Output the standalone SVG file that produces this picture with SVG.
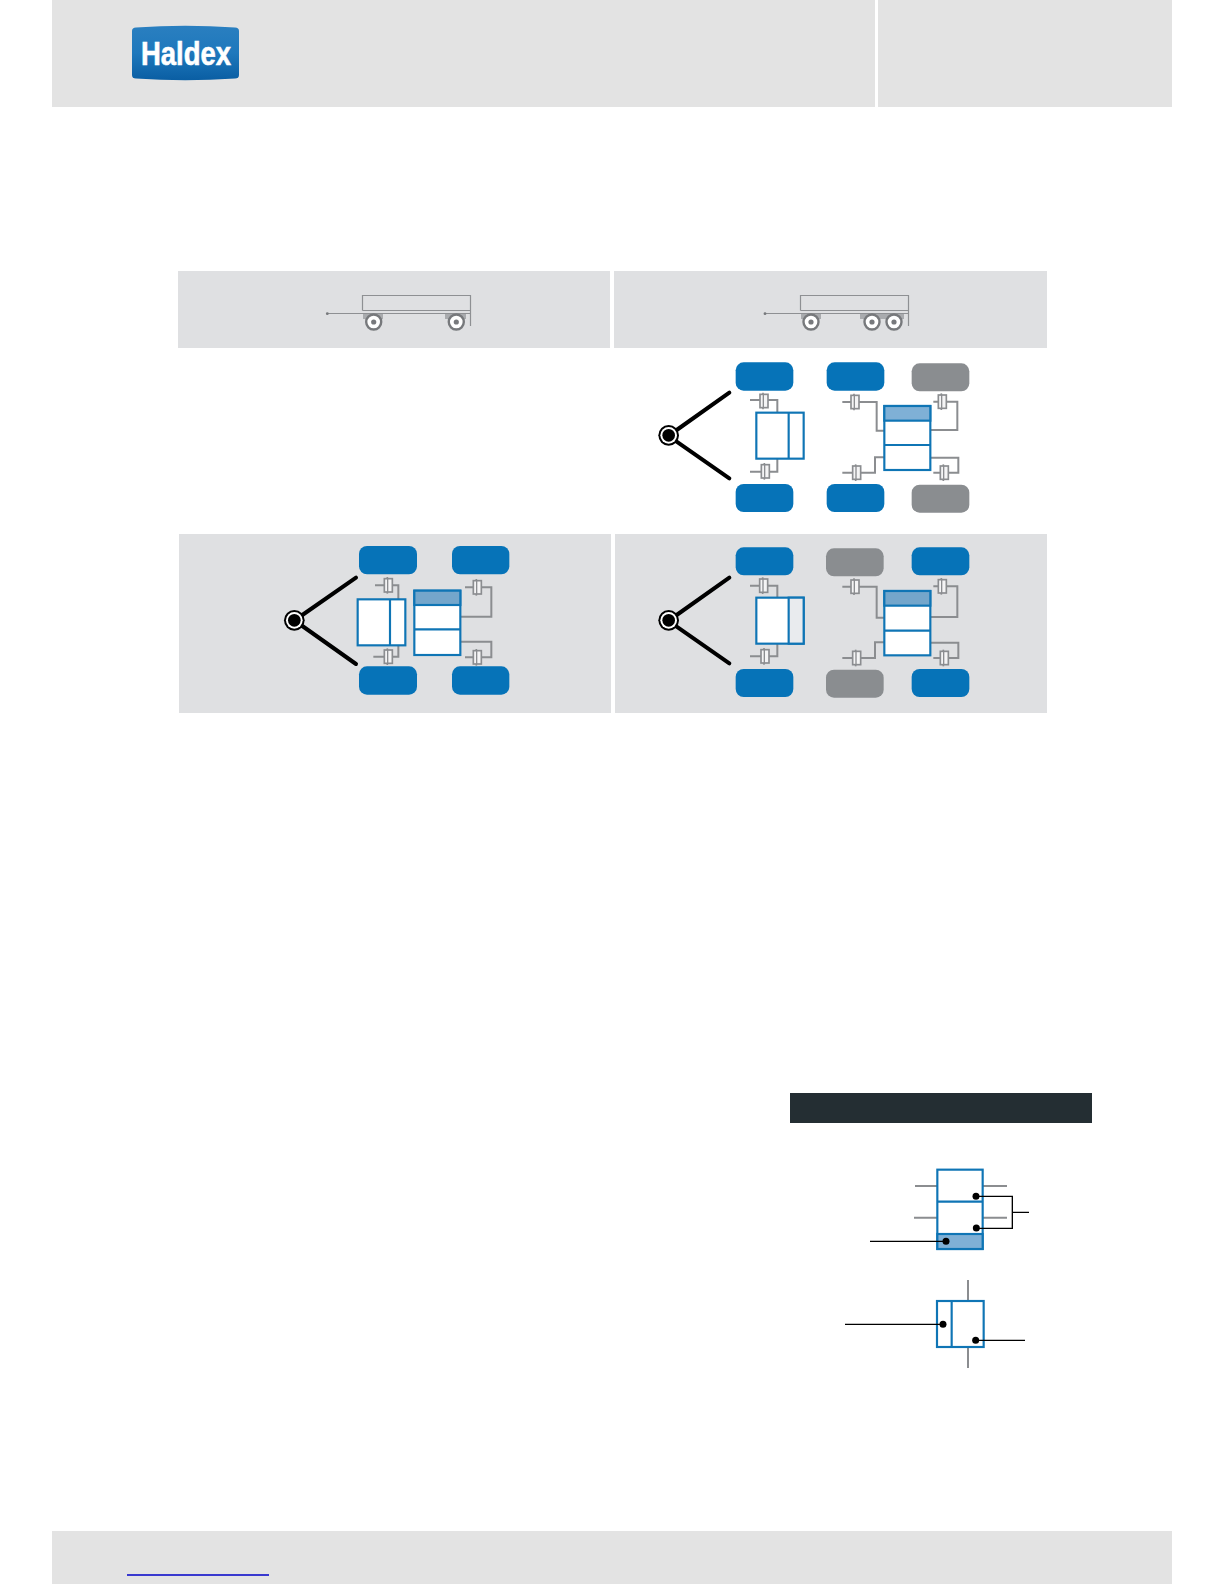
<svg xmlns="http://www.w3.org/2000/svg" width="1224" height="1584" viewBox="0 0 1224 1584">
<style>
.band{fill:#e3e3e3}
.panel{fill:#dfe0e2}
.bw{fill:#0673b8}
.gw{fill:#8a8d90}
.mod{fill:#fff;stroke:#0f75b5;stroke-width:6.5}
.div{fill:none;stroke:#0f75b5;stroke-width:6.5}
.hi{fill:#7fb0d6;stroke:#0f75b5;stroke-width:6.5}
.hi2{fill:#74a6cb;stroke:#0f75b5;stroke-width:6.5}
.pipe{fill:none;stroke:#8b8d90;stroke-width:6}
.arm{fill:none;stroke:#000;stroke-width:12;stroke-linecap:round}
.wire{fill:none;stroke:#000;stroke-width:4}
.frame{fill:none;stroke:#8e9093;stroke-width:1.2}
.fender{fill:#a9abae}
.hub{fill:#77797c}
.tyre{fill:#fff;stroke:#77797c;stroke-width:2.4}
</style>
<defs>
<linearGradient id="logoG" x1="0" y1="0" x2="0" y2="1">
<stop offset="0" stop-color="#2a7fc0"/><stop offset="0.5" stop-color="#1e78bc"/><stop offset="1" stop-color="#0a5ea3"/>
</linearGradient>
<g id="act"><line x1="-3" y1="-25" x2="-3" y2="25" stroke="#8b8d90" stroke-width="5"/><rect x="-12" y="-20" width="24" height="40" fill="#f4f4f5" stroke="#8b8d90" stroke-width="5"/><line x1="-2" y1="-20" x2="-2" y2="20" stroke="#8b8d90" stroke-width="4"/></g>
<g id="hubDot"><circle r="10.5" fill="#000"/></g>
<g id="joint"><circle r="31" fill="#000"/><circle r="25" fill="#fff"/><circle r="19" fill="#000"/></g>
<g id="wheel"><circle r="7.5" class="tyre"/><circle r="2.6" class="hub"/></g>
</defs>

<g id="header"><rect class="band" x="52" y="0" width="823" height="107"/><rect class="band" x="878" y="0" width="294" height="107"/></g>
<g id="logo">
<path d="M132 31Q132 27.500 136 27.500Q185 24 235 27.500Q239 27.500 239 31V75Q239 78.500 235 78.500Q185 82 136 78.500Q132 78.500 132 75Z" fill="url(#logoG)"/>
<text x="141" y="65" font-family="Liberation Sans, sans-serif" font-size="33" font-weight="bold" fill="#fff" stroke="#fff" stroke-width=".6" textLength="90" lengthAdjust="spacingAndGlyphs">Haldex</text>
</g>
<g id="footer"><rect class="band" x="52" y="1531" width="1120" height="53"/><line x1="127" y1="1575" x2="269" y2="1575" stroke="#0000c8" stroke-width="1.5"/></g>

<rect class="panel" x="178" y="271" width="432" height="77"/>
<rect class="panel" x="614" y="271" width="433" height="77"/>
<rect class="panel" x="179" y="534" width="432" height="179"/>
<rect class="panel" x="615" y="534" width="432" height="179"/>
<rect x="790" y="1093" width="302" height="30" fill="#242e33"/>

<g id="trailer-a">
<rect class="fender" x="363" y="314" width="20" height="5"/><rect class="fender" x="445" y="314" width="21" height="5"/>
<path class="frame" d="M362.5 310.500V295.500H470.500V326M362.500 310.500H470.500M327 313.500H470.500"/>
<circle class="hub" cx="327.300" cy="313.700" r="1.400"/>
<use href="#wheel" x="373.700" y="322"/><use href="#wheel" x="456.300" y="322"/>
</g>
<g id="trailer-b">
<rect class="fender" x="801" y="314" width="20" height="5"/><rect class="fender" x="860" y="314" width="44" height="5"/>
<path class="frame" d="M800.500 310.500V295.500H908.500V326M800.500 310.500H908.500M765 313.500H908.500"/>
<circle class="hub" cx="765" cy="313.700" r="1.400"/>
<use href="#wheel" x="811" y="322"/><use href="#wheel" x="872" y="322"/><use href="#wheel" x="894" y="322"/>
</g>

<g id="connectors">
<g transform="translate(640,350) scale(.33333)">
<path class="arm" d="M110 240L268 128M110 275L268 385"/>
<path class="pipe" d="M330 150H412V188M330 365H412V326M607 156H710V242H733M607 368H705V322H733M880 155H952V240H871M880 368H955V323H871"/>
</g>
<g transform="translate(270,530) scale(.33333)">
<path class="arm" d="M97 255L258 143M97 288L258 402"/>
<path class="pipe" d="M315 166H385V208M310 380H385V346M585 172H664V260H571M585 382H664V335H571"/>
</g>
<g transform="translate(640,530) scale(.33333)">
<path class="arm" d="M110 255L268 143M110 290L268 400"/>
<path class="pipe" d="M330 167H412V203M330 379H412V341M607 170H710V263H733M607 384H705V337H733M880 169H952V261H871M880 384H955V338H871"/>
</g>
<g transform="translate(780,1080) scale(.33333)">
<path class="pipe" d="M405 318H472M402 413H472M608 318H681M608 413H681M564 600V663M564 801V864"/>
</g>
</g>

<g id="diagram-b" transform="translate(640,350) scale(.33333)">
<use href="#joint" x="86" y="256"/>
<rect class="bw" x="287" y="37" width="173" height="85" rx="24"/><rect class="bw" x="560" y="37" width="173" height="85" rx="24"/><rect class="gw" x="815" y="40" width="173" height="84" rx="24"/>
<rect class="bw" x="287" y="402" width="173" height="84" rx="24"/><rect class="bw" x="560" y="402" width="173" height="84" rx="24"/><rect class="gw" x="815" y="404" width="173" height="84" rx="24"/>
<use href="#act" x="372" y="153"/><use href="#act" x="376" y="364"/><use href="#act" x="645" y="156"/><use href="#act" x="650" y="368"/><use href="#act" x="907" y="155"/><use href="#act" x="913" y="368"/>
<rect class="mod" x="349" y="188" width="142" height="138"/><line class="div" x1="446" y1="188" x2="446" y2="326"/>
<rect class="mod" x="733" y="168" width="138" height="192"/><rect class="hi" x="733" y="168" width="138" height="44"/><line class="div" x1="733" y1="285" x2="871" y2="285"/>
</g>

<g id="diagram-c" transform="translate(270,530) scale(.33333)">
<use href="#joint" x="73" y="271"/>
<rect class="bw" x="267" y="48" width="174" height="85" rx="24"/><rect class="bw" x="546" y="48" width="172" height="85" rx="24"/>
<rect class="bw" x="267" y="409" width="174" height="85" rx="24"/><rect class="bw" x="546" y="409" width="172" height="85" rx="24"/>
<use href="#act" x="355" y="166"/><use href="#act" x="355" y="380"/><use href="#act" x="622" y="172"/><use href="#act" x="622" y="382"/>
<rect class="mod" x="263" y="208" width="143" height="138"/><line class="div" x1="360" y1="208" x2="360" y2="346"/>
<rect class="mod" x="433" y="182" width="138" height="193"/><rect class="hi2" x="433" y="182" width="138" height="43"/><line class="div" x1="433" y1="298" x2="571" y2="298"/>
</g>

<g id="diagram-d" transform="translate(640,530) scale(.33333)">
<use href="#joint" x="86" y="271"/>
<rect class="bw" x="287" y="52" width="173" height="84" rx="24"/><rect class="gw" x="558" y="55" width="173" height="84" rx="24"/><rect class="bw" x="815" y="52" width="173" height="84" rx="24"/>
<rect class="bw" x="287" y="417" width="173" height="84" rx="24"/><rect class="gw" x="558" y="419" width="173" height="84" rx="24"/><rect class="bw" x="815" y="417" width="173" height="84" rx="24"/>
<use href="#act" x="371" y="167"/><use href="#act" x="375" y="379"/><use href="#act" x="645" y="170"/><use href="#act" x="650" y="384"/><use href="#act" x="907" y="169"/><use href="#act" x="913" y="384"/>
<rect class="mod" x="349" y="203" width="142" height="138"/><rect x="446" y="203" width="45" height="138" fill="#e9ebee" stroke="#0f75b5" stroke-width="6.500"/>
<rect class="mod" x="733" y="183" width="138" height="193"/><rect class="hi2" x="733" y="183" width="138" height="44"/><line class="div" x1="733" y1="302" x2="871" y2="302"/>
</g>

<g id="legend-valve" transform="translate(780,1080) scale(.33333)">
<rect class="mod" x="472" y="269" width="136" height="238"/><rect class="hi" x="472" y="462" width="136" height="45"/><line class="div" x1="472" y1="365" x2="608" y2="365"/>
<path class="wire" d="M588 349H697V445H589M697 397H747M270 484H498"/>
<use href="#hubDot" x="588" y="349"/><use href="#hubDot" x="589" y="444"/><use href="#hubDot" x="498" y="484"/>
</g>
<g id="legend-relay" transform="translate(780,1080) scale(.33333)">
<rect class="mod" x="471" y="663" width="140" height="138"/><line class="div" x1="515" y1="663" x2="515" y2="801"/>
<path class="wire" d="M195 733H489M587 781H735"/>
<use href="#hubDot" x="489" y="733"/><use href="#hubDot" x="587" y="781"/>
</g>
</svg>
